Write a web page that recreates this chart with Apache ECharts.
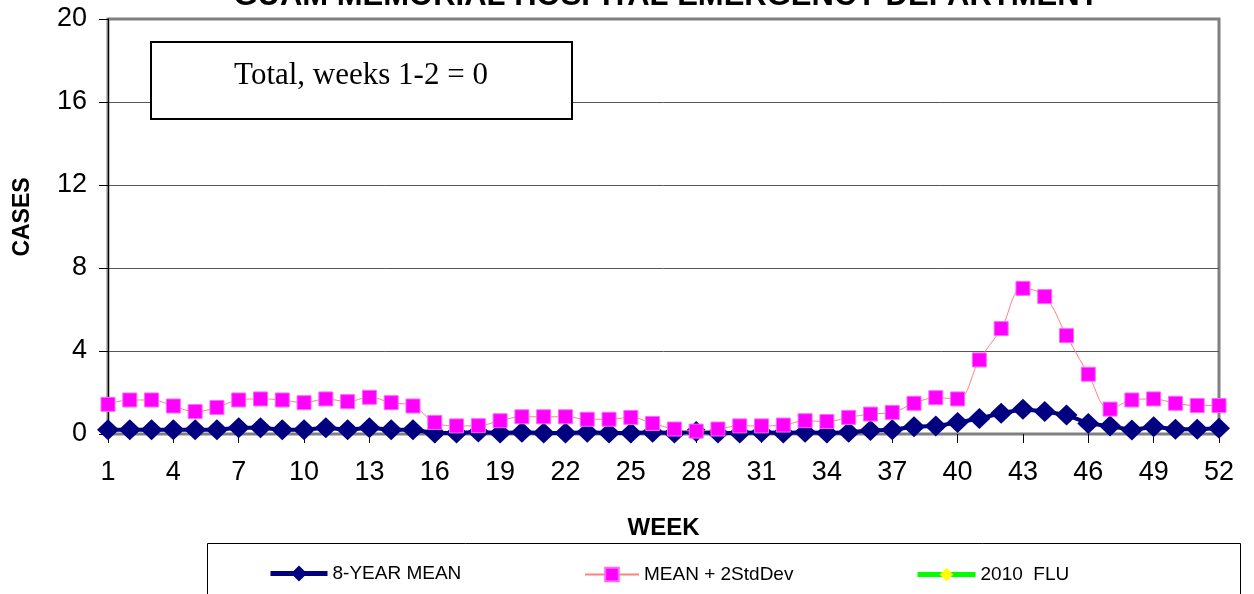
<!DOCTYPE html>
<html><head><meta charset="utf-8">
<script src="https://cdn.jsdelivr.net/npm/echarts@6/dist/echarts.min.js"></script>
<style>html,body{margin:0;padding:0;background:#fff}#c{width:1254px;height:594px}</style>
</head><body><div id="c"></div>
<script>
const weeks = ['1','2','3','4','5','6','7','8','9','10','11','12','13','14','15','16','17','18','19','20','21','22','23','24','25','26','27','28','29','30','31','32','33','34','35','36','37','38','39','40','41','42','43','44','45','46','47','48','49','50','51','52'];
const mean8 = [0.2,0.2,0.2,0.2,0.2,0.2,0.3,0.3,0.2,0.2,0.3,0.2,0.3,0.2,0.2,0.05,0.05,0.1,0.05,0.08,0.05,0.05,0.08,0.05,0.05,0.08,0.05,0.12,0.05,0.05,0.08,0.05,0.08,0.05,0.08,0.17,0.2,0.35,0.38,0.55,0.75,1.0,1.19,1.08,0.92,0.51,0.38,0.19,0.35,0.23,0.23,0.28];
const mean2sd = [1.43,1.64,1.64,1.35,1.08,1.28,1.64,1.69,1.64,1.51,1.69,1.56,1.77,1.51,1.35,0.56,0.39,0.4,0.64,0.83,0.83,0.83,0.71,0.71,0.8,0.51,0.24,0.14,0.24,0.39,0.39,0.43,0.64,0.6,0.8,0.96,1.04,1.48,1.75,1.69,3.57,5.08,7.02,6.62,4.74,2.88,1.2,1.64,1.69,1.48,1.37,1.37];
const flu2010 = [];
const yTicks = {min:0, max:20, step:4};
const seriesNames = ['8-YEAR MEAN','MEAN + 2StdDev','2010  FLU'];

const F = "'Liberation Sans', Arial, sans-serif";
const chart = echarts.init(document.getElementById('c'), null, {renderer:'canvas'});
const legendText = {fontFamily:F, fontSize:19, color:'#000'};
chart.setOption({
  animation:false,
  backgroundColor:'#fff',
  grid:{left:108, right:35, top:19, bottom:160, show:true, borderColor:'#808080', borderWidth:3, backgroundColor:'transparent'},
  xAxis:{
    type:'category', data:weeks, boundaryGap:false,
    name:'WEEK', nameLocation:'middle', nameGap:82,
    nameTextStyle:{fontFamily:F, fontWeight:'bold', fontSize:24, color:'#000'},
    axisLine:{lineStyle:{color:'#808080', width:2}},
    axisTick:{interval:2, length:9, lineStyle:{color:'#000', width:1}},
    axisLabel:{interval:2, fontFamily:F, fontSize:27, color:'#000', margin:25},
    splitLine:{show:false}
  },
  yAxis:{
    type:'value', min:yTicks.min, max:yTicks.max, interval:yTicks.step,
    axisLine:{show:true, lineStyle:{color:'#000', width:1}},
    axisTick:{show:true, length:9, lineStyle:{color:'#000'}},
    axisLabel:{fontFamily:F, fontSize:27, color:'#000', margin:21},
    splitLine:{show:true, lineStyle:{color:['#555','#555','#555','#555','#555','#808080'], width:1}}
  },
  legend:[
    {data:[seriesNames[0]], left:263, top:559, itemWidth:57, itemHeight:20, itemGap:2, lineStyle:{width:5}, textStyle:legendText},
    {data:[seriesNames[1]], left:579, top:560, itemWidth:54, itemHeight:17, itemGap:2, textStyle:legendText},
    {data:[seriesNames[2]], left:910, top:560, itemWidth:58, itemHeight:17, itemGap:2, lineStyle:{width:5}, textStyle:legendText}
  ],
  graphic:[
    {type:'text', z:100, x:666, y:-4, style:{text:'GUAM MEMORIAL HOSPITAL EMERGENCY DEPARTMENT', font:"bold 31px "+F, fill:'#000', align:'center', verticalAlign:'middle', textAlign:'center', textVerticalAlign:'middle'}},
    {type:'text', z:100, x:23, y:217, rotation:Math.PI/2, style:{text:'CASES', font:"bold 23px "+F, fill:'#000', align:'center', verticalAlign:'middle', textAlign:'center', textVerticalAlign:'middle'}},
    {type:'rect', z:100, shape:{x:151, y:42, width:421, height:77}, style:{fill:'#fff', stroke:'#000', lineWidth:2}},
    {type:'text', z:101, x:361, y:76, style:{text:'Total, weeks 1-2 = 0', font:"31px 'Liberation Serif', 'Times New Roman', serif", fill:'#000', align:'center', verticalAlign:'middle', textAlign:'center', textVerticalAlign:'middle'}},
    {type:'rect', z:-1, shape:{x:207.5, y:543.5, width:1033, height:60}, style:{fill:'#fff', stroke:'#000', lineWidth:1}}
  ],
  series:[
    {name:seriesNames[0], type:'line', data:mean8, symbol:'diamond', symbolSize:[22,21], showAllSymbol:true, smooth:false,
      lineStyle:{color:'#000080', width:4}, itemStyle:{color:'#000080'}, z:3},
    {name:seriesNames[1], type:'line', data:mean2sd, symbol:'rect', symbolSize:14, showAllSymbol:true, smooth:0.4,
      lineStyle:{color:'#FF8080', width:1}, itemStyle:{color:'#FF00FF', borderColor:'#FF66FF', borderWidth:1}, z:4},
    {name:seriesNames[2], type:'line', data:flu2010, symbol:'diamond', symbolSize:10,
      lineStyle:{color:'#00FF00', width:5}, itemStyle:{color:'#FFFF00'}, z:5}
  ]
});
</script>
</body></html>
